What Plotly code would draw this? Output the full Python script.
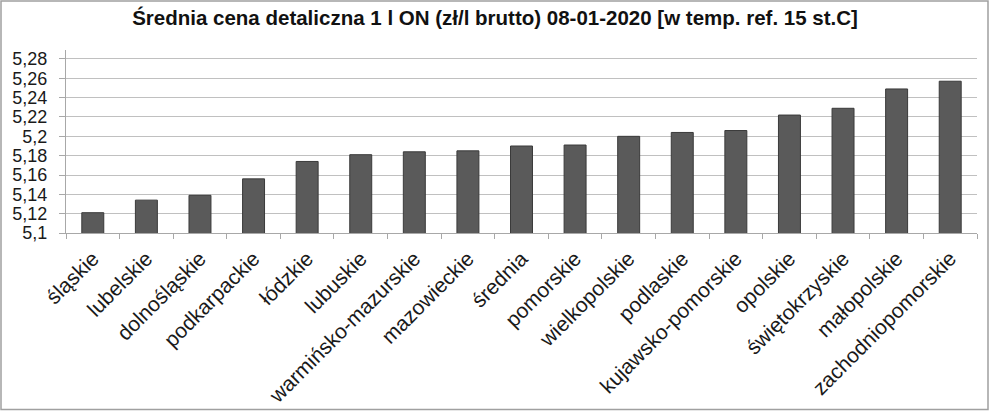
import plotly.graph_objects as go

categories = ["śląskie", "lubelskie", "dolnośląskie", "podkarpackie", "łódzkie", "lubuskie",
              "warmińsko-mazurskie", "mazowieckie", "średnia", "pomorskie", "wielkopolskie",
              "podlaskie", "kujawsko-pomorskie", "opolskie", "świętokrzyskie", "małopolskie",
              "zachodniopomorskie"]
prices = [5.121, 5.134, 5.139, 5.156, 5.174, 5.181, 5.184, 5.185, 5.190, 5.191, 5.200,
          5.204, 5.206, 5.222, 5.229, 5.249, 5.257]
y_tickvals = [5.10, 5.12, 5.14, 5.16, 5.18, 5.20, 5.22, 5.24, 5.26, 5.28]
y_ticktext = ["5,1", "5,12", "5,14", "5,16", "5,18", "5,2", "5,22", "5,24", "5,26", "5,28"]
title = "Średnia cena detaliczna 1 l ON (zł/l brutto) 08-01-2020 [w temp. ref. 15 st.C]"

W, H = 990, 412
ml, mr, mt = 66, 13, 50
plot_bottom = 233.3
mb = H - plot_bottom
pw = W - ml - mr
ph = plot_bottom - mt

fig = go.Figure(go.Bar(
    x=categories, y=prices,
    marker=dict(color="#5a5a5a", line=dict(color="#3a3a3a", width=1)),
    width=0.41,
))

fig.update_layout(
    width=W, height=H,
    margin=dict(l=ml, r=mr, t=mt, b=mb),
    paper_bgcolor="white", plot_bgcolor="white",
    font=dict(family="Liberation Sans, Arial, sans-serif", color="#1a1a1a"),
    title=dict(text="<b>" + title + "</b>", x=(495 - ml) / pw, xref="paper", xanchor="center",
               yref="container", y=1 - 18 / H, yanchor="middle",
               font=dict(size=20.5, color="#111111")),
    showlegend=False,
)
fig.update_yaxes(
    range=[5.1, 5.2893], tickvals=y_tickvals, ticktext=y_ticktext,
    showgrid=True, gridcolor="#c0c0c0", gridwidth=1,
    showline=True, linecolor="#a8a8a8", linewidth=1,
    ticks="outside", ticklen=6, tickcolor="#a8a8a8",
    tickfont=dict(size=18, color="#1a1a1a"), ticklabelstandoff=8,
    zeroline=False,
)
fig.update_xaxes(
    tickangle=-45, tickfont=dict(size=21, color="#1a1a1a"),
    showline=True, linecolor="#a8a8a8", linewidth=1,
    ticks="outside", ticklen=5, tickcolor="#a8a8a8", tickson="boundaries",
    ticklabelstandoff=4,
    showgrid=False, automargin=False,
)

# outer frame
def px_x(p):
    return (p - ml) / pw

def px_y(p):
    return (plot_bottom - p) / ph

fig.add_shape(type="rect", xref="paper", yref="paper",
              x0=px_x(1), x1=px_x(988), y0=px_y(410), y1=px_y(1),
              line=dict(color="#a0a0a0", width=1.5), fillcolor="rgba(0,0,0,0)", layer="above")

fig.write_html("out.html", config={"displayModeBar": False},
               post_script="document.body.style.margin='0';document.body.style.padding='0';")
